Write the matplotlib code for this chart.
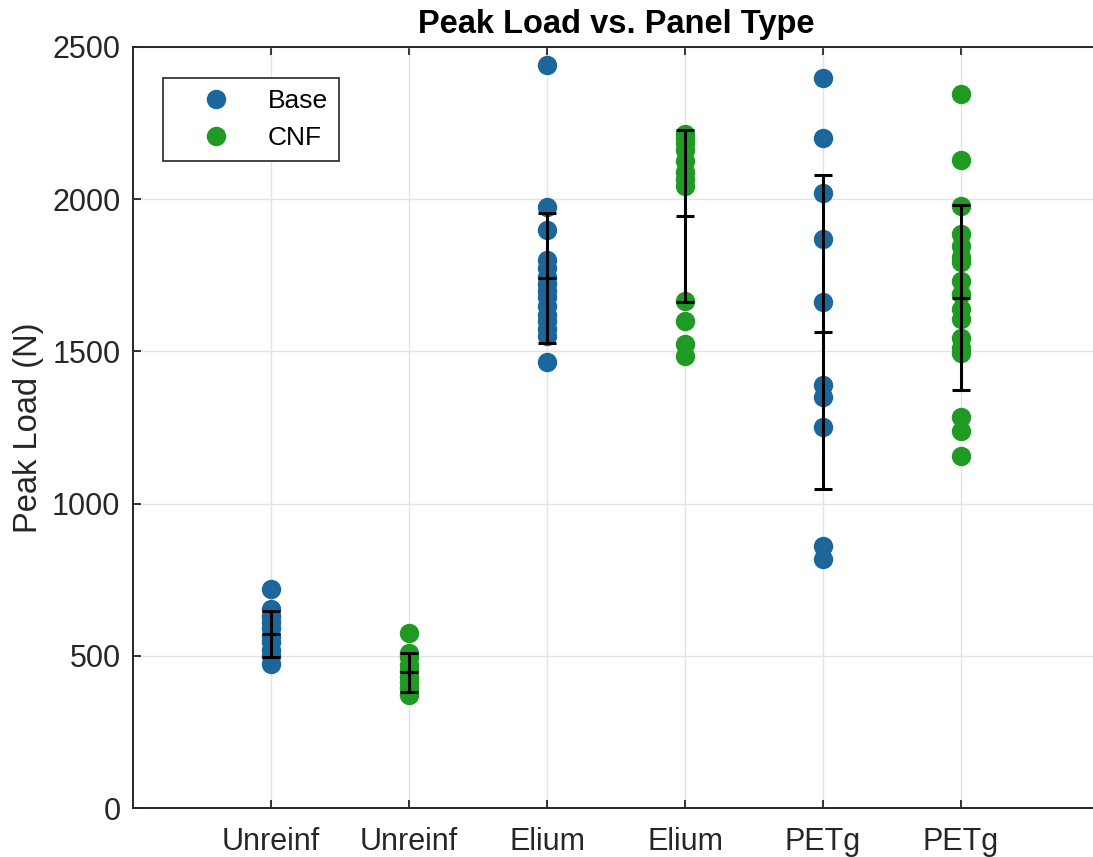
import numpy as np
import matplotlib
matplotlib.use("Agg")
import matplotlib.pyplot as plt

plt.rcParams['font.family'] = ['Liberation Sans', 'DejaVu Sans']

# category positions and tick labels
positions = [1, 2, 3, 4, 5, 6]
tick_labels = ["Unreinf", "Unreinf", "Elium", "Elium", "PETg", "PETg"]
group = ["Base", "CNF", "Base", "CNF", "Base", "CNF"]

# peak loads (N)
unreinf_base = [720, 655, 630, 612, 590, 565, 545, 520, 500, 472]
unreinf_cnf = [575, 510, 495, 470, 450, 430, 415, 395, 372]
elium_base = [2440, 1975, 1900, 1800, 1775, 1745, 1720, 1700, 1680,
              1650, 1620, 1600, 1575, 1550, 1465]
elium_cnf = [2215, 2200, 2185, 2160, 2125, 2090, 2065, 2045,
             1665, 1600, 1525, 1485]
petg_base = [2398, 2201, 2020, 1868, 1661, 1391, 1349, 1253, 862, 819]
petg_cnf = [2345, 2128, 1977, 1885, 1845, 1810, 1795, 1730, 1690, 1640,
            1605, 1545, 1510, 1495, 1283, 1237, 1155]
samples = [unreinf_base, unreinf_cnf, elium_base, elium_cnf, petg_base, petg_cnf]

# mean and std shown by the error bars
means = [572, 446, 1741, 1944, 1564, 1677]
stds = [75, 64, 215, 283, 515, 305]

colors = {"Base": "#1b679c", "CNF": "#1f9a22"}

fig = plt.figure(figsize=(10.93, 8.57), dpi=100)
ax = fig.add_axes([133 / 1093, 1 - 808 / 857, 966 / 1093, 761 / 857])

ax.grid(True, color="#e3e3e3", linewidth=1.0, zorder=0)
ax.set_axisbelow(True)

seen = set()
for pos, vals, g in zip(positions, samples, group):
    lab = g if g not in seen else None
    seen.add(g)
    ax.plot([pos] * len(vals), vals, "o", color=colors[g], markersize=14,
            markeredgewidth=0, label=lab, zorder=2)

ax.errorbar(positions, means, yerr=stds, fmt="none", ecolor="black",
            elinewidth=2.2, capsize=6.5, capthick=2.2, zorder=3)
ax.plot(positions, means, "_", color="black", markersize=13,
        markeredgewidth=2.2, zorder=3)

ax.set_xlim(0, 7)
ax.set_ylim(0, 2500)
ax.set_xticks(positions)
ax.set_xticklabels(tick_labels)
ax.set_yticks([0, 500, 1000, 1500, 2000, 2500])
ax.tick_params(direction="in", top=True, length=6, width=1.3,
               labelsize=22, colors="#262626", pad=9)
ax.tick_params(axis="x", pad=14)
for s in ["top", "bottom", "left"]:
    ax.spines[s].set_color("#262626")
    ax.spines[s].set_linewidth(1.4)
ax.spines["right"].set_visible(False)

ax.set_ylabel("Peak Load (N)", fontsize=23.5, color="#262626", labelpad=6)
ax.set_title("Peak Load vs. Panel Type", fontsize=23.5, fontweight="bold",
             pad=10, x=(616.5 - 133) / 966)

leg = ax.legend(loc="upper left", bbox_to_anchor=(163 / 1093, 1 - 78 / 857),
                bbox_transform=fig.transFigure, fontsize=19, frameon=True,
                fancybox=False, edgecolor="#262626", framealpha=1,
                borderaxespad=0, handletextpad=0.35, borderpad=0.42,
                labelspacing=0.5, handlelength=3.2, markerscale=1.0)
leg.get_frame().set_linewidth(1.2)

fig.savefig("out.png", dpi=100)
